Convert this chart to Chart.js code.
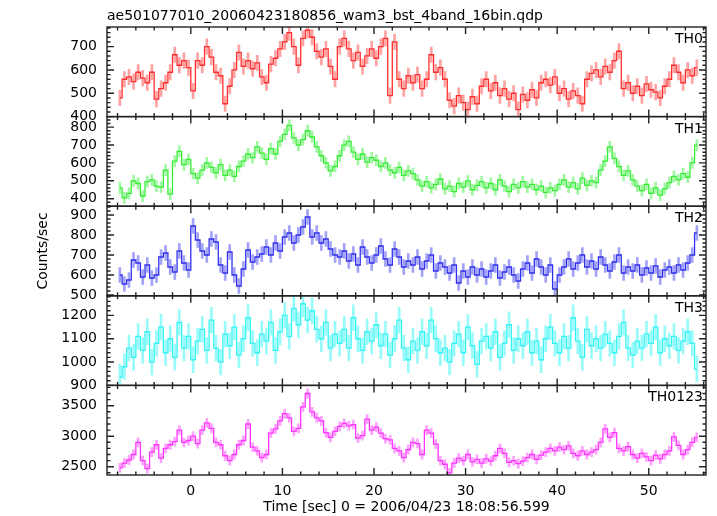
<!DOCTYPE html>
<html>
<head>
<meta charset="utf-8">
<script src="https://cdn.jsdelivr.net/npm/chart.js@4"></script>
<style>
  html, body { margin: 0; padding: 0; background: #fff; }
  canvas { display: block; }
</style>
</head>
<body>
<canvas id="lc" width="717" height="516"></canvas>
<script>
// WAM light curve, 4 bands + sum, 0.5 s bins starting at t = -7.75 s
const T0 = -7.75;
const BIN = 0.5;

const th0 = [
  480, 560, 570, 550, 590, 565, 545, 590,   475, 520, 545, 590, 665, 620, 640, 610,
  510, 640, 620, 700, 655, 590, 575, 455,   530, 600, 675, 615, 640, 605, 630, 570,
  545, 625, 650, 690, 720, 760, 700, 620,   735, 770, 740, 680, 655, 690, 615, 560,
  700, 735, 690, 640, 675, 615, 660, 690,   650, 700, 735, 490, 720, 560, 520, 575,
  545, 580, 520, 560, 665, 590, 610, 560,   470, 445, 490, 460, 430, 485, 455, 530,
  560, 510, 545, 490, 520, 475, 500, 430,   495, 470, 515, 480, 545, 560, 535, 570,
  500, 520, 475, 510, 490, 455, 560, 585,   600, 570, 615, 590, 640, 680, 520, 545,
  500, 530, 490, 540, 515, 505, 480, 530,   560, 620, 590, 545, 600, 575, 610
];
const th1 = [
  460, 405, 430, 500, 485, 415, 495, 505,   470, 465, 560, 425, 610, 665, 590, 620,
  540, 515, 560, 600, 575, 545, 590, 530,   560, 525, 580, 610, 650, 630, 690, 655,
  620, 680, 650, 720, 760, 810, 740, 700,   730, 780, 745, 690, 640, 600, 555, 580,
  640, 700, 720, 660, 620, 650, 605, 630,   615, 580, 600, 560, 545, 575, 530, 555,
  540, 505, 470, 495, 460, 480, 510, 455,   470, 440, 485, 465, 500, 450, 475, 495,
  460, 485, 450, 505, 470, 440, 480, 460,   495, 465, 480, 450, 470, 435, 460, 445,
  480, 505, 465, 490, 455, 515, 475, 500,   490, 560, 610, 690, 625, 580, 530, 555,
  505, 470, 445, 480, 430, 460, 420, 455,   490, 525, 505, 540, 520, 600, 700
];
const th2 = [
  600, 555, 575, 675, 660, 590, 650, 585,   600, 690, 710, 640, 615, 720, 660, 625,
  845, 775, 720, 700, 780, 765, 650, 610,   715, 600, 545, 630, 725, 665, 690, 705,
  740, 700, 760, 720, 790, 810, 760, 800,   840, 890, 790, 810, 760, 780, 730, 700,
  690, 720, 670, 705, 650, 740, 690, 660,   700, 745, 680, 650, 730, 690, 640, 670,
  650, 690, 630, 670, 700, 620, 660, 640,   610, 650, 560, 620, 590, 640, 600, 630,
  590, 620, 650, 585, 615, 640, 600, 570,   630, 660, 610, 680, 640, 600, 650, 530,
  600, 640, 680, 630, 660, 700, 640, 670,   630, 690, 650, 620, 665, 700, 610, 640,
  620, 650, 600, 635, 610, 645, 590, 625,   640, 610, 650, 625, 660, 700, 810
];
const th3 = [
  935, 980, 1060, 1020, 1110, 1050, 1130, 1000,   1080, 1150, 1040, 1100, 1020, 1170, 1060, 1110,
  1010, 1090, 1140, 1050, 1180, 1060, 1000, 1120,  1070, 1150, 1030, 1100, 1190, 1080, 1040, 1120,
  1090, 1170, 1050, 1130, 1200, 1110, 1230, 1160,  1250, 1180, 1220, 1140, 1100, 1170, 1060, 1120,
  1080, 1140, 1060, 1190, 1100, 1050, 1130, 1090,  1160, 1070, 1120, 1030, 1100, 1180, 1060, 1010,
  1090, 1050, 1130, 1070, 1180, 1100, 1040, 1060,  1000, 1080, 1120, 1040, 1150, 1070, 990, 1090,
  1110, 1060, 1130, 1020, 1080, 1160, 1050, 1100,  1070, 1130, 1040, 1090, 1010, 1100, 1150, 1080,
  1040, 1110, 1060, 1190, 1090, 1020, 1140, 1070,  1100, 1060, 1120, 1080, 1040, 1110, 1170, 1060,
  1030, 1090, 1060, 1120, 1080, 1150, 1040, 1100,  1070, 1110, 1050, 1090, 1130, 1080, 970
];
const th0123 = [
  2480, 2560, 2610, 2700, 2900, 2600, 2470, 2740,  2860, 2640, 2800, 2860, 2910, 3100, 2900, 2930,
  3000, 2880, 3100, 3220, 3130, 2900, 2860, 2680,  2600, 2700, 2860, 2930, 3200, 2820, 2760, 2650,
  2700, 3050, 3120, 3250, 3370, 3300, 3080, 3130,  3480, 3700, 3400, 3300, 3250, 3060, 2980, 3080,
  3160, 3210, 3170, 3190, 2970, 3010, 3280, 3100,  3150, 3050, 2960, 2940, 2800, 2760, 2650, 2780,
  2900, 2880, 2700, 3100, 3050, 2870, 2600, 2540,  2400, 2560, 2640, 2600, 2700, 2580, 2620, 2560,
  2630, 2590, 2680, 2800, 2720, 2570, 2600, 2550,  2590, 2650, 2700, 2620, 2690, 2740, 2800, 2760,
  2820, 2780, 2840, 2720, 2680, 2760, 2700, 2740,  2780, 2900, 3120, 2980, 3060, 2800, 2760, 2830,
  2700, 2640, 2720, 2660, 2600, 2690, 2630, 2700,  2760, 2990, 2850, 2700, 2780, 2900, 2980
];

const panelNames = ["TH0", "TH1", "TH2", "TH3", "TH0123"];
const panelErr = [33, 31, 37, 55, 75];          // 1-sigma half length of error bars
const yMin = [400, 358, 496, 900, 2364];
const yMax = [784, 859, 944, 1284, 3833];
const yTicks = [
  [400, 500, 600, 700],
  [400, 500, 600, 700, 800],
  [500, 600, 700, 800, 900],
  [900, 1000, 1100, 1200],
  [2500, 3000, 3500]
];
const yMinor = [20, 20, 20, 20, 100];
const xTicks = [0, 10, 20, 30, 40, 50];

const series = [th0, th1, th2, th3, th0123];
const lineColors = ["#ff2e2e", "#33ee33", "#3030ee", "#33f4f4", "#ff33ff"];
const barColors = ["rgba(255,70,70,0.5)", "rgba(70,240,70,0.5)", "rgba(70,70,240,0.5)",
                   "rgba(70,245,245,0.55)", "rgba(255,70,255,0.5)"];

const FONT = "DejaVu Sans";
const times = th0.map((_, i) => T0 + i * BIN);

const datasets = [];
series.forEach((vals, p) => {
  datasets.push({
    type: "line",
    yAxisID: "y" + p,
    order: 0,
    data: vals.map((v, i) => ({ x: times[i], y: v })),
    borderColor: lineColors[p],
    borderWidth: 1.3,
    pointRadius: 0,
    stepped: "middle"
  });
  datasets.push({
    type: "bar",
    yAxisID: "y" + p,
    order: 1,
    grouped: false,
    data: vals.map((v, i) => ({ x: times[i], y: [v - panelErr[p], v + panelErr[p]] })),
    backgroundColor: barColors[p],
    borderWidth: 0,
    barThickness: 2
  });
});

const scales = {
  x: {
    type: "linear",
    min: -9.15,
    max: 56.25,
    offset: false,
    grid: { display: false, drawTicks: false },
    border: { display: false },
    afterBuildTicks: s => { s.ticks = xTicks.map(v => ({ value: v })); },
    afterFit: s => { s.height = 41; },
    ticks: { padding: 8, maxRotation: 0, autoSkip: false, color: "#000",
             font: { family: FONT, size: 14 }, callback: v => String(v) }
  }
};
// stacked panels: the last scale added ends up on top, so add TH0123 first
for (let p = series.length - 1; p >= 0; p--) {
  scales["y" + p] = {
    type: "linear",
    position: "left",
    stack: "lc",
    stackWeight: 1,
    min: yMin[p],
    max: yMax[p],
    grid: { display: false, drawTicks: false },
    border: { display: false },
    afterBuildTicks: s => { s.ticks = yTicks[p].map(v => ({ value: v })); },
    afterFit: s => { s.width = 107; },
    ticks: { padding: 10, autoSkip: false, color: "#000",
             font: { family: FONT, size: 14 }, callback: v => String(v) }
  };
}

// frames, inward ticks (qdp style), panel names and titles
const panelDeco = {
  id: "panelDeco",
  beforeDatasetDraw(chart, args) {
    const a = chart.chartArea;
    const ys = args.meta.yScale;
    chart.ctx.save();
    chart.ctx.beginPath();
    chart.ctx.rect(a.left, ys.top, a.right - a.left, ys.bottom - ys.top);
    chart.ctx.clip();
  },
  afterDatasetDraw(chart) {
    chart.ctx.restore();
  },
  afterDraw(chart) {
    const ctx = chart.ctx;
    const a = chart.chartArea;
    const xs = chart.scales.x;
    ctx.save();
    ctx.strokeStyle = "#222";
    ctx.lineWidth = 1.4;
    ctx.fillStyle = "#000";

    panelNames.forEach((name, p) => {
      const ys = chart.scales["y" + p];
      ctx.beginPath();
      for (let v = Math.ceil(yMin[p] / yMinor[p]) * yMinor[p]; v <= yMax[p]; v += yMinor[p]) {
        const py = ys.getPixelForValue(v);
        const len = yTicks[p].includes(v) ? 7 : 3.5;
        ctx.moveTo(a.left, py); ctx.lineTo(a.left + len, py);
        ctx.moveTo(a.right, py); ctx.lineTo(a.right - len, py);
      }
      for (let t = -8; t <= 56; t += 2) {
        const px = xs.getPixelForValue(t);
        const len = t % 10 === 0 ? 7 : 3.5;
        ctx.moveTo(px, ys.bottom); ctx.lineTo(px, ys.bottom - len);
        ctx.moveTo(px, ys.top); ctx.lineTo(px, ys.top + len);
      }
      ctx.stroke();
      ctx.strokeRect(a.left, ys.top, a.right - a.left, ys.bottom - ys.top);

      ctx.font = "14px " + FONT;
      ctx.textAlign = "right";
      ctx.textBaseline = "alphabetic";
      ctx.fillText(name, a.right - 3, ys.top + 16);
    });

    ctx.font = "14px " + FONT;
    ctx.textAlign = "left";
    ctx.fillText("ae501077010_20060423180856_wam3_bst_4band_16bin.qdp", a.left, 20);

    ctx.textAlign = "center";
    ctx.fillText("Time [sec] 0 = 2006/04/23 18:08:56.599", (a.left + a.right) / 2, 511);

    ctx.translate(46.5, (a.top + a.bottom) / 2);
    ctx.rotate(-Math.PI / 2);
    ctx.fillText("Counts/sec", 0, 0);
    ctx.restore();
  }
};

new Chart(document.getElementById("lc").getContext("2d"), {
  type: "line",
  data: { datasets: datasets },
  options: {
    responsive: false,
    animation: false,
    devicePixelRatio: 1,
    layout: { padding: { left: 0, top: 27, right: 11, bottom: 0 } },
    scales: scales,
    plugins: {
      legend: { display: false },
      tooltip: { enabled: false }
    }
  },
  plugins: [panelDeco]
});
</script>
</body>
</html>
